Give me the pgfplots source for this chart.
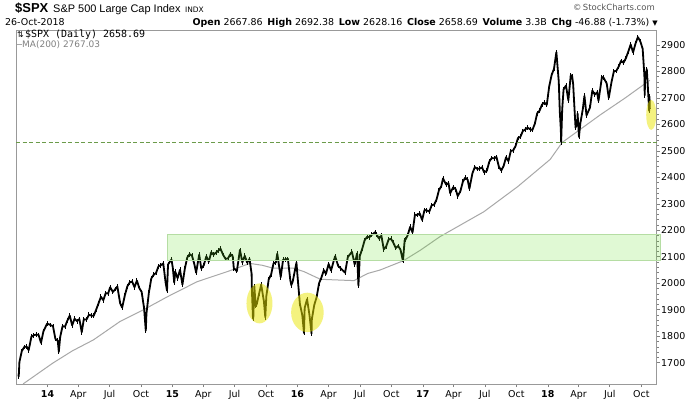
\documentclass[border=0pt]{standalone}
\usepackage{pgfplots}
\pgfplotsset{compat=1.18}
\usepackage{pgfplotstable}
\usepgfplotslibrary{dateplot}
\usepackage{fontspec}
\setmainfont{DejaVu Sans}
\newfontfamily\arialfont{Liberation Sans}
\newfontfamily\monofont{DejaVu Sans Mono}
\definecolor{framegray}{HTML}{999999}
\definecolor{magray}{HTML}{A8A8A8}
\definecolor{boxgreen}{RGB}{100,225,40}
\definecolor{boxedge}{HTML}{B5DDA3}
\definecolor{hlyellow}{RGB}{235,230,0}
\definecolor{dashgreen}{HTML}{6B9B4A}
\definecolor{txtgray}{HTML}{555555}

\pgfplotstableread{
date close
2013-10-08 1655
2013-10-09 1648
2013-10-11 1703
2013-10-18 1744
2013-10-25 1759
2013-11-01 1761
2013-11-07 1747
2013-11-15 1798
2013-11-22 1804
2013-11-29 1806
2013-12-06 1805
2013-12-13 1775
2013-12-20 1818
2013-12-31 1848
2014-01-10 1842
2014-01-17 1838
2014-01-24 1790
2014-01-31 1783
2014-02-03 1741
2014-02-07 1797
2014-02-14 1838
2014-02-21 1836
2014-02-28 1859
2014-03-07 1878
2014-03-14 1841
2014-03-21 1866
2014-03-28 1857
2014-04-04 1865
2014-04-11 1815
2014-04-17 1864
2014-04-25 1863
2014-05-02 1881
2014-05-09 1878
2014-05-16 1877
2014-05-23 1900
2014-05-30 1924
2014-06-06 1949
2014-06-13 1936
2014-06-20 1963
2014-06-27 1961
2014-07-03 1985
2014-07-11 1967
2014-07-18 1978
2014-07-24 1988
2014-08-01 1925
2014-08-07 1908
2014-08-15 1955
2014-08-22 1988
2014-08-29 2003
2014-09-05 2007
2014-09-12 1985
2014-09-19 2010
2014-09-26 1982
2014-10-03 1967
2014-10-10 1906
2014-10-15 1821
2014-10-17 1886
2014-10-24 1964
2014-10-31 2018
2014-11-07 2032
2014-11-14 2039
2014-11-21 2064
2014-11-28 2068
2014-12-05 2075
2014-12-12 2002
2014-12-16 1972
2014-12-19 2071
2014-12-29 2090
2015-01-02 2058
2015-01-06 2002
2015-01-09 2044
2015-01-16 2019
2015-01-23 2051
2015-01-30 1995
2015-02-06 2055
2015-02-13 2097
2015-02-20 2110
2015-02-27 2104
2015-03-06 2071
2015-03-11 2040
2015-03-20 2108
2015-03-26 2056
2015-04-02 2067
2015-04-10 2102
2015-04-17 2081
2015-04-24 2117
2015-05-01 2108
2015-05-08 2116
2015-05-15 2123
2015-05-21 2131
2015-05-29 2107
2015-06-05 2092
2015-06-12 2094
2015-06-19 2110
2015-06-26 2102
2015-06-29 2057
2015-07-08 2046
2015-07-17 2126
2015-07-24 2079
2015-07-31 2104
2015-08-07 2078
2015-08-14 2092
2015-08-20 2036
2015-08-21 1971
2015-08-24 1867
2015-08-25 1870
2015-08-28 1989
2015-09-01 1914
2015-09-04 1921
2015-09-11 1961
2015-09-17 1995
2015-09-25 1931
2015-09-29 1872
2015-10-02 1951
2015-10-09 2015
2015-10-16 2033
2015-10-23 2075
2015-10-30 2079
2015-11-03 2112
2015-11-13 2023
2015-11-20 2089
2015-11-27 2090
2015-12-04 2092
2015-12-11 2012
2015-12-14 1993
2015-12-18 2006
2015-12-29 2078
2015-12-31 2044
2016-01-08 1922
2016-01-15 1880
2016-01-20 1812
2016-01-22 1907
2016-01-29 1940
2016-02-05 1880
2016-02-11 1810
2016-02-12 1865
2016-02-19 1918
2016-02-26 1948
2016-03-04 2000
2016-03-11 2022
2016-03-18 2050
2016-03-24 2035
2016-04-01 2073
2016-04-08 2048
2016-04-15 2081
2016-04-20 2102
2016-04-29 2065
2016-05-06 2057
2016-05-19 2040
2016-05-27 2099
2016-06-08 2119
2016-06-16 2071
2016-06-23 2113
2016-06-27 1991
2016-07-01 2103
2016-07-08 2130
2016-07-15 2162
2016-07-22 2175
2016-07-29 2174
2016-08-05 2183
2016-08-15 2193
2016-08-19 2184
2016-08-26 2169
2016-09-02 2180
2016-09-09 2128
2016-09-16 2139
2016-09-23 2165
2016-09-30 2168
2016-10-07 2153
2016-10-14 2133
2016-10-21 2141
2016-10-28 2126
2016-11-04 2084
2016-11-09 2163
2016-11-11 2164
2016-11-18 2182
2016-11-25 2213
2016-12-02 2192
2016-12-09 2259
2016-12-16 2258
2016-12-23 2264
2016-12-30 2239
2017-01-06 2277
2017-01-13 2275
2017-01-20 2271
2017-01-27 2295
2017-02-03 2297
2017-02-10 2316
2017-02-17 2351
2017-02-24 2367
2017-03-01 2396
2017-03-10 2373
2017-03-17 2378
2017-03-22 2340
2017-03-31 2363
2017-04-07 2355
2017-04-13 2329
2017-04-21 2349
2017-04-28 2384
2017-05-05 2399
2017-05-12 2391
2017-05-17 2357
2017-05-26 2416
2017-06-02 2439
2017-06-09 2432
2017-06-16 2433
2017-06-23 2438
2017-06-29 2419
2017-07-07 2425
2017-07-14 2459
2017-07-21 2473
2017-07-28 2472
2017-08-04 2477
2017-08-11 2441
2017-08-18 2426
2017-08-25 2443
2017-09-01 2476
2017-09-08 2461
2017-09-15 2500
2017-09-22 2502
2017-09-29 2519
2017-10-06 2549
2017-10-13 2553
2017-10-20 2575
2017-10-27 2581
2017-11-03 2588
2017-11-10 2582
2017-11-17 2579
2017-11-24 2602
2017-12-01 2642
2017-12-08 2652
2017-12-15 2675
2017-12-22 2683
2017-12-29 2674
2018-01-05 2743
2018-01-12 2786
2018-01-19 2810
2018-01-26 2873
2018-02-02 2762
2018-02-05 2649
2018-02-08 2581
2018-02-09 2533
2018-02-12 2656
2018-02-16 2732
2018-02-23 2747
2018-03-02 2691
2018-03-09 2786
2018-03-13 2783
2018-03-16 2752
2018-03-23 2588
2018-03-28 2605
2018-03-29 2641
2018-04-02 2553
2018-04-06 2604
2018-04-13 2656
2018-04-18 2708
2018-04-24 2634
2018-05-04 2663
2018-05-11 2728
2018-05-18 2713
2018-05-25 2721
2018-05-29 2689
2018-06-08 2779
2018-06-13 2776
2018-06-22 2755
2018-06-28 2700
2018-07-06 2760
2018-07-13 2801
2018-07-20 2802
2018-07-27 2819
2018-08-03 2840
2018-08-10 2833
2018-08-17 2850
2018-08-24 2875
2018-08-31 2902
2018-09-07 2872
2018-09-14 2905
2018-09-21 2930
2018-09-28 2914
2018-10-05 2886
2018-10-10 2785
2018-10-11 2710
2018-10-12 2767
2018-10-17 2809
2018-10-19 2768
2018-10-24 2651
2018-10-25 2705
2018-10-26 2659
}\spx

\pgfplotstableread{
date ma
2013-10-22 1620
2014-01-16 1698
2014-03-15 1745
2014-05-15 1786
2014-07-31 1855
2014-10-07 1899
2014-12-17 1949
2015-03-14 2006
2015-05-20 2035
2015-06-10 2044
2015-08-15 2075
2015-09-20 2068
2015-10-22 2057
2015-12-20 2057
2016-01-20 2044
2016-03-08 2015
2016-05-05 2012
2016-06-14 2010
2016-07-24 2037
2016-08-29 2050
2016-11-05 2085
2016-12-25 2125
2017-02-20 2176
2017-06-28 2270
2017-10-05 2365
2018-01-08 2468
2018-02-12 2532
2018-04-15 2590
2018-06-03 2636
2018-08-15 2700
2018-10-26 2767
}\ma

\begin{document}
\begin{tikzpicture}
\path[use as bounding box] (0bp,0bp) rectangle (700bp,400bp);
\fill[white] (0bp,0bp) rectangle (700bp,400bp);
\begin{axis}[
  at={(16bp,16bp)}, anchor=south west,
  scale only axis, width=640.7bp, height=354bp,
  date coordinates in=x,
  xmin=2013-10-01, xmax=2018-11-15,
  ymin=1619.5, ymax=2956.7,
  clip=false,
  axis line style={draw=framegray, line width=0.8bp},
  tick style={draw=black!50, line width=0.6bp},
  tick align=outside,
  major tick length=3bp, minor tick length=2bp,
  ytick={1700,1800,1900,2000,2100,2200,2300,2400,2500,2600,2700,2800,2900},
  minor y tick num=4,
  ytick pos=right, yticklabel pos=right,
  /pgf/number format/assume math mode=true,
  /pgf/number format/1000 sep={},
  yticklabel style={font=\fontsize{9.5}{11}\selectfont, xshift=-2bp},
  xtick pos=bottom,
  xtick={2014-01-01,2014-04-01,2014-07-01,2014-10-01,
         2015-01-01,2015-04-01,2015-07-01,2015-10-01,
         2016-01-01,2016-04-01,2016-07-01,2016-10-01,
         2017-01-01,2017-04-01,2017-07-01,2017-10-01,
         2018-01-01,2018-04-01,2018-07-01,2018-10-01},
  xticklabels={\textbf{14},Apr,Jul,Oct,\textbf{15},Apr,Jul,Oct,\textbf{16},Apr,Jul,Oct,\textbf{17},Apr,Jul,Oct,\textbf{18},Apr,Jul,Oct},
  xticklabel style={font=\fontsize{9.5}{11}\selectfont},
]
\addplot[magray, line width=1bp] table[x=date,y=ma]{\ma};
\addplot[black, line width=1.8bp, line join=round,
  error bars/.cd, y dir=both, y fixed=9, error mark=none,
  error bar style={black, line width=0.9bp}] table[x=date,y=close]{\spx};
\addplot[dashgreen, line width=0.8bp, dash pattern=on 4bp off 2.5bp] coordinates {(2013-10-01,2532) (2018-11-15,2532)};
\addplot[draw=boxedge, line width=0.8bp, fill=boxgreen, fill opacity=0.2] coordinates {(2014-12-16,2085) (2018-11-25,2085) (2018-11-25,2184) (2014-12-16,2184)} -- cycle;
\fill[hlyellow, opacity=0.5] (axis cs:2015-09-12,1924) ellipse [x radius=13bp, y radius=20bp];
\fill[hlyellow, opacity=0.5] (axis cs:2016-01-30,1890) ellipse [x radius=16.3bp, y radius=19.7bp];
\fill[hlyellow, opacity=0.5] (axis cs:2018-10-30,2636) ellipse [x radius=5bp, y radius=15bp];
\end{axis}
% header
\node[anchor=base west, inner sep=0] at (15bp,387bp) {\arialfont\bfseries\fontsize{13}{15}\selectfont \$SPX};
\node[anchor=base west, inner sep=0] at (53bp,387bp) {\arialfont\fontsize{11}{13}\selectfont S\&P 500 Large Cap Index};
\node[anchor=base west, inner sep=0] at (185bp,387bp) {\fontsize{7.5}{9}\selectfont INDX};
\node[anchor=base east, inner sep=0, text=txtgray] at (655bp,389.5bp) {\fontsize{8.5}{10}\selectfont \textcopyright\,StockCharts.com};
\node[anchor=base west, inner sep=0] at (5bp,374.5bp) {\fontsize{9.5}{11}\selectfont 26-Oct-2018};
\node[anchor=base east, inner sep=0] at (658bp,374.5bp) {\fontsize{9.5}{11}\selectfont \textbf{Open} 2667.86\enspace\textbf{High} 2692.38\enspace\textbf{Low} 2628.16\enspace\textbf{Close} 2658.69\enspace\textbf{Volume} 3.3B\enspace\textbf{Chg} -46.88 (-1.73\%) \fontsize{7}{8}\selectfont ▼};
% legend
\node[anchor=base west, inner sep=0] at (17bp,362.5bp) {\fontsize{8}{9}\selectfont ⇅};
\node[anchor=base west, inner sep=0] at (25bp,362.5bp) {\monofont\fontsize{10}{12}\selectfont \$SPX (Daily) 2658.69};
\draw[magray, line width=1.2bp] (17bp,355.5bp) -- (22bp,355.5bp);
\node[anchor=base west, inner sep=0, text=black!50] at (22bp,352bp) {\fontsize{9}{11}\selectfont MA(200) 2767.03};
\end{tikzpicture}
\end{document}
